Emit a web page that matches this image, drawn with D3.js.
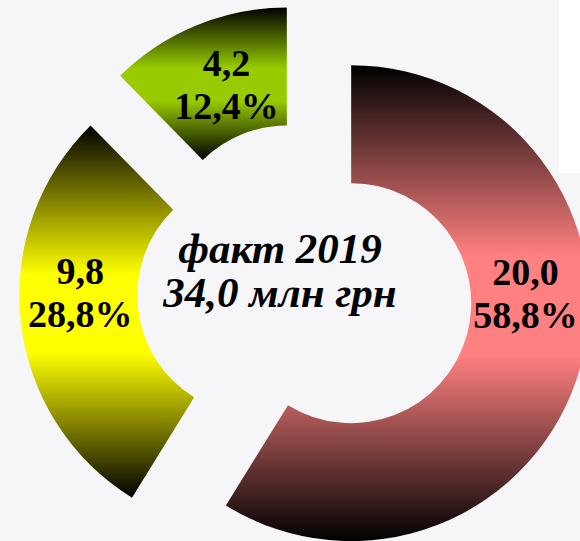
<!DOCTYPE html>
<html>
<head>
<meta charset="utf-8">
<script src="https://cdn.jsdelivr.net/npm/d3@7/dist/d3.min.js"></script>
<style>
  html, body { margin: 0; padding: 0; background: #f6f6f8; }
  svg { display: block; }
</style>
</head>
<body>
<script>
// ---- data ----
const categories = ["A", "B", "C"];
const values = [20.0, 9.8, 4.2];
const valueLabels = ["20,0", "9,8", "4,2"];
const percentLabels = ["58,8%", "28,8%", "12,4%"];
const colors = ["#ff8080", "#ffff00", "#99cc00"];
const titleLines = ["факт 2019", "34,0 млн грн"];

// ---- layout ----
const W = 580, H = 541;
const cx = 305, cy = 290;
const innerR = 120, outerR = 238, explode = 48;
const labelR = 175;
const labelAdjust = [[6, -56], [-3, -21], [6, 2]];

const svg = d3.select("body").append("svg").attr("width", W).attr("height", H);
svg.append("rect").attr("width", W).attr("height", H).attr("fill", "#f6f6f8");
svg.append("rect").attr("x", 559).attr("y", 0).attr("width", W - 559).attr("height", 173).attr("fill", "#ffffff");

const defs = svg.append("defs");
colors.forEach((c, i) => {
  const g = defs.append("linearGradient").attr("id", "grad" + i)
    .attr("x1", 0).attr("y1", 0).attr("x2", 0).attr("y2", 1);
  g.append("stop").attr("offset", "0%").attr("stop-color", "#000000");
  g.append("stop").attr("offset", "40%").attr("stop-color", c);
  g.append("stop").attr("offset", "61%").attr("stop-color", c);
  g.append("stop").attr("offset", "100%").attr("stop-color", "#000000");
});

const pie = d3.pie().sort(null).value(d => d).startAngle(0).endAngle(2 * Math.PI);
const arcs = pie(values);
const arc = d3.arc().innerRadius(innerR).outerRadius(outerR);
const labelArc = d3.arc().innerRadius(labelR).outerRadius(labelR);

const g = svg.append("g").attr("transform", `translate(${cx},${cy})`);

const slices = g.selectAll("g.slice").data(arcs).join("g")
  .attr("class", "slice")
  .attr("transform", d => {
    const a = (d.startAngle + d.endAngle) / 2;
    return `translate(${explode * Math.sin(a)},${-explode * Math.cos(a)})`;
  });

slices.append("path")
  .attr("d", arc)
  .attr("fill", (d, i) => `url(#grad${i})`);

slices.each(function(d, i) {
  const [lx, ly] = labelArc.centroid(d);
  const x = lx + labelAdjust[i][0], y = ly + labelAdjust[i][1];
  const t = d3.select(this).append("text")
    .attr("text-anchor", "middle")
    .attr("font-family", "'Liberation Serif', 'Times New Roman', serif")
    .attr("font-weight", "bold")
    .attr("font-size", 38)
    .attr("fill", "#000");
  t.append("tspan").attr("x", x).attr("y", y - 10).text(valueLabels[i]);
  t.append("tspan").attr("x", x).attr("y", y + 33).text(percentLabels[i]);
});

const ct = svg.append("text")
  .attr("text-anchor", "middle")
  .attr("font-family", "'Liberation Serif', 'Times New Roman', serif")
  .attr("font-weight", "bold")
  .attr("font-style", "italic")
  .attr("font-size", 43)
  .attr("fill", "#000");
ct.append("tspan").attr("x", 280).attr("y", 263).text(titleLines[0]);
ct.append("tspan").attr("x", 280).attr("y", 307).text(titleLines[1]);
</script>
</body>
</html>
